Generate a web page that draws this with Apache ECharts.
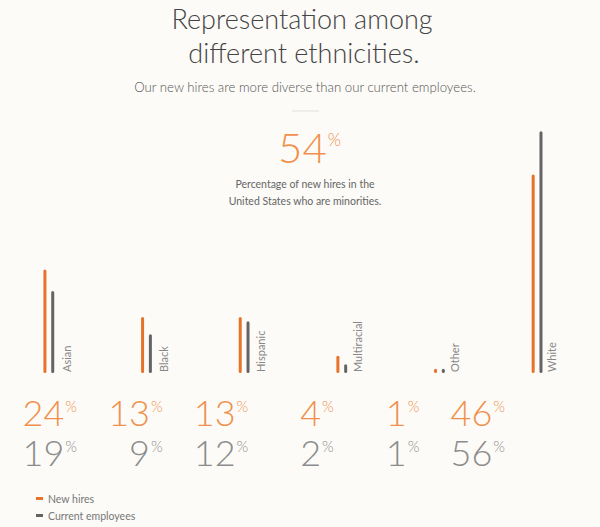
<!DOCTYPE html>
<html><head><meta charset="utf-8">
<script src="https://cdn.jsdelivr.net/npm/echarts@6/dist/echarts.min.js"></script>
<style>html,body{margin:0;padding:0;background:#fcfbf7}#c{width:600px;height:527px}</style>
</head><body><div id="c"></div>
<script>
const categories = ['Asian', 'Black', 'Hispanic', 'Multiracial', 'Other', 'White'];
const newHires = [24, 13, 13, 4, 1, 46];
const currentEmployees = [19, 9, 12, 2, 1, 56];
const headlineValue = 54;
const titleLines = ['Representation among', 'different ethnicities.'];
const subtitle = 'Our new hires are more diverse than our current employees.';
const headlineCaption = ['Percentage of new hires in the', 'United States who are minorities.'];
const seriesNames = ['New hires', 'Current employees'];

const ORANGE = '#e8722a', ORANGE_TXT = '#f0904c', GRAY = '#646464', GRAY_TXT = '#8c8c8c';
const THIN = 'Lato';

const chart = echarts.init(document.getElementById('c'), null, {renderer: 'svg'});

function pct(v, color, y, right, size, psize) {
  return {
    type: 'text', x: right, y: y,
    style: {
      text: '{n|' + v + '}{p|%}', align: 'right', verticalAlign: 'top',
      rich: {
        n: {fontFamily: THIN, fontWeight: 300, fontSize: size, lineHeight: Math.round(size * 0.75), fill: color, verticalAlign: 'middle'},
        p: {fontFamily: THIN, fontWeight: 300, fontSize: psize, lineHeight: psize, fill: color, verticalAlign: 'top', padding: [0, 0, 0, 1]}
      }
    }
  };
}

const graphics = [
  {type: 'text', x: 302, y: 5, style: {text: titleLines[0], align: 'center', fontFamily: THIN, fontWeight: 300, fontSize: 27, fill: '#444'}},
  {type: 'text', x: 304, y: 39, style: {text: titleLines[1], align: 'center', fontFamily: THIN, fontWeight: 300, fontSize: 27, fill: '#444'}},
  {type: 'text', x: 305, y: 80, style: {text: subtitle, align: 'center', fontFamily: THIN, fontWeight: 300, fontSize: 13.2, fill: '#555'}},
  {type: 'line', shape: {x1: 292, y1: 111, x2: 319, y2: 111}, style: {stroke: '#e0dfdb', lineWidth: 1}},
  pct(headlineValue, ORANGE_TXT, 131, 341, 42, 17),
  {type: 'text', x: 305, y: 178, style: {text: headlineCaption[0], align: 'center', fontFamily: 'Lato', fontSize: 10.5, fill: '#666'}},
  {type: 'text', x: 305, y: 195, style: {text: headlineCaption[1], align: 'center', fontFamily: 'Lato', fontSize: 10.5, fill: '#666'}}
];
categories.forEach((c, i) => {
  const right = 77 + 85.6 * i;
  graphics.push(pct(newHires[i], ORANGE_TXT, 398.5, right, 36, 15));
  graphics.push(pct(currentEmployees[i], GRAY_TXT, 438.5, right, 36, 15));
});

chart.setOption({
  backgroundColor: '#fcfbf7',
  animation: false,
  legend: {
    data: seriesNames, orient: 'vertical', left: 31, top: 488, height: 38, itemGap: 6,
    icon: 'rect', itemWidth: 7, itemHeight: 3,
    textStyle: {fontFamily: 'Lato', fontSize: 10.5, color: '#777'}
  },
  grid: [
    {left: -3.3, width: 589.2, top: 114, bottom: 154},
    {left: 17.7, width: 589.2, top: 114, bottom: 154}
  ],
  xAxis: [
    {type: 'category', gridIndex: 0, data: categories, axisLine: {show: false}, axisTick: {show: false}, axisLabel: {show: false}},
    {type: 'category', gridIndex: 1, data: categories, axisLine: {show: false}, axisTick: {show: false},
     axisLabel: {inside: true, rotate: 90, margin: 1, fontFamily: 'Lato', fontSize: 11, color: '#888'}}
  ],
  yAxis: [
    {type: 'value', gridIndex: 0, min: 0, max: 60, show: false},
    {type: 'value', gridIndex: 1, min: 0, max: 60, show: false}
  ],
  series: [
    {name: seriesNames[0], type: 'bar', data: newHires, barWidth: 3, barGap: '160%', itemStyle: {color: ORANGE, borderRadius: 1.5}},
    {name: seriesNames[1], type: 'bar', data: currentEmployees, barWidth: 3, barGap: '160%', itemStyle: {color: GRAY, borderRadius: 1.5}}
  ],
  graphic: graphics
});
</script></body></html>
